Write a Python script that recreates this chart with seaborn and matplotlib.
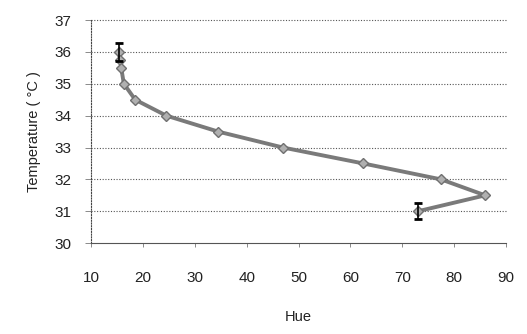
import numpy as np
import pandas as pd
import matplotlib
matplotlib.use("Agg")
import matplotlib.pyplot as plt
import seaborn as sns

# Hue vs temperature readings
hue = [15.3, 15.6, 15.8, 16.3, 18.5, 24.5, 34.5, 47.0, 62.5, 77.5, 86.0, 73.0]
temperature = [36.0, 35.75, 35.5, 35.0, 34.5, 34.0, 33.5, 33.0, 32.5, 32.0, 31.5, 31.0]
err_hue = [15.3, 73.0]
err_temp = [36.0, 31.0]
err_size = [0.28, 0.25]

df = pd.DataFrame({"Hue": hue, "Temperature": temperature})

sns.set_style("white")
plt.rcParams['font.family'] = ['Liberation Sans', 'DejaVu Sans']

fig = plt.figure(figsize=(5.27, 3.34), dpi=100)
ax = fig.add_axes([0.173, 0.272, 0.787, 0.668])

sns.lineplot(data=df, x="Hue", y="Temperature", sort=False, estimator=None,
             color="#7a7a7a", linewidth=2.8, marker="D", markersize=5.5,
             markerfacecolor="#b0b0b0", markeredgecolor="#707070",
             markeredgewidth=1, ax=ax)
ax.errorbar(err_hue, err_temp, yerr=err_size, fmt="none", ecolor="black",
            elinewidth=1.2, capsize=3, capthick=2, zorder=5)

ax.set_xlim(10, 90)
ax.set_ylim(30, 37)
ax.set_xticks(range(10, 91, 10))
ax.set_yticks(range(30, 38))

for y in range(31, 38):
    ax.axhline(y, color="#555555", linestyle=(0, (1, 1.5)), linewidth=0.8,
               zorder=0, clip_on=False)

ax.spines["top"].set_visible(False)
ax.spines["right"].set_visible(False)
ax.spines["left"].set_linestyle((0, (1, 1.5)))
ax.spines["left"].set_color("#444444")
ax.spines["left"].set_linewidth(0.8)
ax.spines["bottom"].set_color("#555555")
ax.spines["bottom"].set_linewidth(0.8)

ax.tick_params(axis="x", direction="out", length=3, width=0.6, color="#777777",
               pad=17, labelsize=11, labelcolor="#222222")
ax.tick_params(axis="y", direction="out", length=4, width=0.6, color="#777777",
               pad=10, labelsize=11, labelcolor="#222222")
ax.tick_params(bottom=True, left=True)

ax.set_xlabel("Hue", fontsize=10.5, color="#222222", labelpad=18)
ax.set_ylabel("Temperature ( °C )", fontsize=10.5, color="#222222", labelpad=10)

fig.savefig("out.png", dpi=100)
